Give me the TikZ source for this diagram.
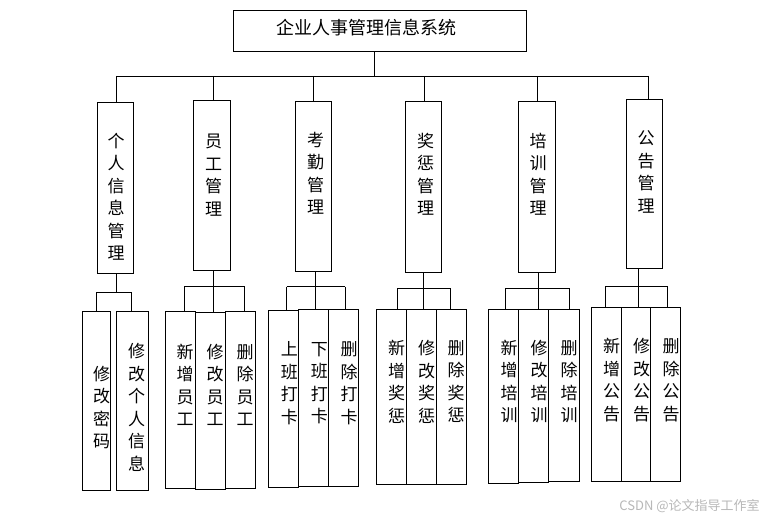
\documentclass[tikz,border=0pt]{standalone}
\usepackage{fontspec}
\newfontfamily\cjk{Noto Sans CJK SC}
\usetikzlibrary{fit}
\begin{document}
\begin{tikzpicture}[x=1pt,y=-1pt,
  line width=0.8pt,
  boxr/.style={draw=black, inner sep=0pt, line width=0.8pt},
  vtext/.style={font=\cjk\fontsize{17}{22.5}\selectfont, align=center, inner sep=0pt, text=black},
  ttext/.style={font=\cjk\fontsize{18}{20}\selectfont, inner sep=0pt, text=black},
  wm/.style={font=\cjk\fontsize{13}{14}\selectfont, inner sep=0pt, text=black!28},
  conn/.style={draw=black, line width=0.8pt}
]
\useasboundingbox (0,0) rectangle (777,519);
\fill[white] (0,0) rectangle (777,519);

% root
\node[boxr, fit={(233,10) (526,51)}] (root) {};
\node[ttext] (roottxt) at (366,27.5) {企业人事管理信息系统};

% bus
\coordinate (rj) at (374,76);
\coordinate (busL) at (116.7,76);
\coordinate (busR) at (648.7,76);
\draw[conn] (rj |- root.south) -- (rj);
\draw[conn] (busL) -- (busR);

% level-1 boxes
\node[boxr, fit={(97.3,102.3) (133.3,273)}] (m1) {};
\node[boxr, fit={(193.3,100.3) (230.3,270.3)}] (m2) {};
\node[boxr, fit={(295.3,101.3) (331.3,271.3)}] (m3) {};
\node[boxr, fit={(405.3,101.3) (441.3,272.3)}] (m4) {};
\node[boxr, fit={(518.3,101.3) (555.3,272.3)}] (m5) {};
\node[boxr, fit={(626.3,99.3) (662.3,268.3)}] (m6) {};

\node[vtext] (m1t) at (116,196.5) {个\\人\\信\\息\\管\\理};
\node[vtext] (m2t) at (213.5,175) {员\\工\\管\\理};
\node[vtext] (m3t) at (315.5,173.5) {考\\勤\\管\\理};
\node[vtext] (m4t) at (425.5,174) {奖\\惩\\管\\理};
\node[vtext] (m5t) at (538,174) {培\\训\\管\\理};
\node[vtext] (m6t) at (646,172) {公\\告\\管\\理};

% drops from bus
\coordinate (d1) at (116.7,76);
\coordinate (d2) at (213.7,76);
\coordinate (d3) at (313.3,76);
\coordinate (d4) at (424.3,76);
\coordinate (d5) at (537.3,76);
\coordinate (d6) at (648.7,76);
\foreach \i in {1,...,6} {\draw[conn] (d\i) -- (d\i |- m\i.north);}

% level-2 boxes
\node[boxr, fit={(82.3,311.7) (110.3,490)}] (c11) {};
\node[boxr, fit={(116.3,311.7) (148.3,490.3)}] (c12) {};

\node[boxr, fit={(165.7,311.7) (195.3,488.3)}] (c21) {};
\node[boxr, fit={(195.3,312.7) (225.3,489.3)}] (c22) {};
\node[boxr, fit={(225.3,311.7) (255.3,488.3)}] (c23) {};

\node[boxr, fit={(268.3,310.7) (298.7,487.3)}] (c31) {};
\node[boxr, fit={(298.7,309.3) (328.7,486.3)}] (c32) {};
\node[boxr, fit={(328.7,309.3) (358.7,486.3)}] (c33) {};

\node[boxr, fit={(376.3,309.3) (406.3,484)}] (c41) {};
\node[boxr, fit={(406.3,309.3) (436.3,484)}] (c42) {};
\node[boxr, fit={(436.3,309.3) (466.3,484)}] (c43) {};

\node[boxr, fit={(488.3,309.3) (518.7,483.3)}] (c51) {};
\node[boxr, fit={(518.7,309.3) (548.7,482.3)}] (c52) {};
\node[boxr, fit={(548.7,309.3) (579.3,481.3)}] (c53) {};

\node[boxr, fit={(591.3,307.3) (621.7,481.3)}] (c61) {};
\node[boxr, fit={(621.7,307.3) (650.7,481.3)}] (c62) {};
\node[boxr, fit={(650.7,307.3) (680.3,481.3)}] (c63) {};

% level-2 texts
\node[vtext] (c11t) at (101.7,407.5) {修\\改\\密\\码};
\node[vtext] (c12t) at (136.7,407.5) {修\\改\\个\\人\\信\\息};

\node[vtext] (c21t) at (185,385) {新\\增\\员\\工};
\node[vtext] (c22t) at (215,385) {修\\改\\员\\工};
\node[vtext] (c23t) at (245,385) {删\\除\\员\\工};

\node[vtext] (c31t) at (289.3,383.3) {上\\班\\打\\卡};
\node[vtext] (c32t) at (319.3,383.3) {下\\班\\打\\卡};
\node[vtext] (c33t) at (349,383.3) {删\\除\\打\\卡};

\node[vtext] (c41t) at (396.7,381.7) {新\\增\\奖\\惩};
\node[vtext] (c42t) at (426.7,381.7) {修\\改\\奖\\惩};
\node[vtext] (c43t) at (456,381.7) {删\\除\\奖\\惩};

\node[vtext] (c51t) at (509,381.7) {新\\增\\培\\训};
\node[vtext] (c52t) at (539,381.7) {修\\改\\培\\训};
\node[vtext] (c53t) at (569,381.7) {删\\除\\培\\训};

\node[vtext] (c61t) at (611.7,380.3) {新\\增\\公\\告};
\node[vtext] (c62t) at (641.7,380.3) {修\\改\\公\\告};
\node[vtext] (c63t) at (671,380.3) {删\\除\\公\\告};

% group 1 connectors
\coordinate (s1) at (116.5,292.3);
\coordinate (h1a) at (96.7,292.3);
\coordinate (h1b) at (131.3,292.3);
\draw[conn] (s1 |- m1.south) -- (s1);
\draw[conn] (h1a) -- (h1b);
\draw[conn] (h1a) -- (h1a |- c11.north);
\draw[conn] (h1b) -- (h1b |- c12.north);

% group 2 connectors
\coordinate (s2) at (213.7,286);
\coordinate (h2a) at (184.3,286);
\coordinate (h2c) at (244.7,286);
\draw[conn] (s2 |- m2.south) -- (s2);
\draw[conn] (h2a) -- (h2c);
\draw[conn] (h2a) -- (h2a |- c21.north);
\draw[conn] (s2) -- (s2 |- c22.north);
\draw[conn] (h2c) -- (h2c |- c23.north);

% group 3 connectors
\coordinate (s3) at (315.3,286.7);
\coordinate (h3a) at (286.7,286.7);
\coordinate (h3c) at (345.3,286.7);
\draw[conn] (s3 |- m3.south) -- (s3);
\draw[conn] (h3a) -- (h3c);
\draw[conn] (h3a) -- (h3a |- c31.north);
\draw[conn] (s3) -- (s3 |- c32.north);
\draw[conn] (h3c) -- (h3c |- c33.north);

% group 4 connectors
\coordinate (s4) at (423.3,288.3);
\coordinate (h4a) at (397.3,288.3);
\coordinate (h4c) at (450.3,288.3);
\draw[conn] (s4 |- m4.south) -- (s4);
\draw[conn] (h4a) -- (h4c);
\draw[conn] (h4a) -- (h4a |- c41.north);
\draw[conn] (s4) -- (s4 |- c42.north);
\draw[conn] (h4c) -- (h4c |- c43.north);

% group 5 connectors
\coordinate (s5) at (538.3,288.3);
\coordinate (h5a) at (505.7,288.3);
\coordinate (h5c) at (569.3,288.3);
\draw[conn] (s5 |- m5.south) -- (s5);
\draw[conn] (h5a) -- (h5c);
\draw[conn] (h5a) -- (h5a |- c51.north);
\draw[conn] (s5) -- (s5 |- c52.north);
\draw[conn] (h5c) -- (h5c |- c53.north);

% group 6 connectors
\coordinate (s6) at (638.3,286);
\coordinate (h6a) at (605.3,286);
\coordinate (h6c) at (667.3,286);
\draw[conn] (s6 |- m6.south) -- (s6);
\draw[conn] (h6a) -- (h6c);
\draw[conn] (h6a) -- (h6a |- c61.north);
\draw[conn] (s6) -- (s6 |- c62.north);
\draw[conn] (h6c) -- (h6c |- c63.north);

% watermark
\node[wm, anchor=east] (wmark) at (760,505.7) {CSDN @论文指导工作室};
\end{tikzpicture}
\end{document}
